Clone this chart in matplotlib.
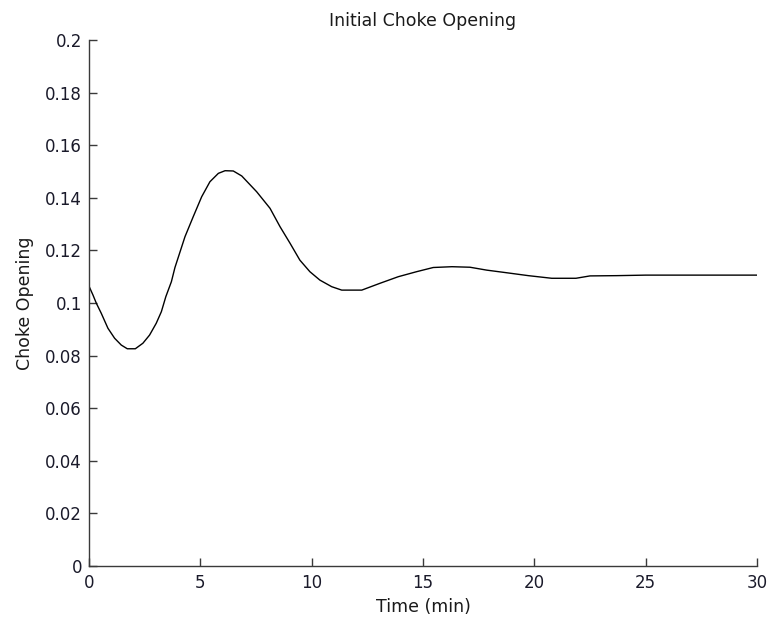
import matplotlib
matplotlib.use("Agg")
import matplotlib.pyplot as plt

# Data
time_min = [0.0, 0.18, 0.33, 0.55, 0.85, 1.15, 1.45, 1.72, 2.08, 2.42, 2.72,
            3.02, 3.25, 3.45, 3.70, 3.86, 4.31, 4.68, 5.06, 5.43, 5.81, 6.11,
            6.48, 6.86, 7.53, 8.13, 8.58, 9.03, 9.47, 9.92, 10.37, 10.9, 11.35,
            12.25, 13.07, 13.89, 14.71, 15.46, 16.3, 17.11, 17.86, 18.76, 19.73,
            20.78, 21.87, 22.5, 23.7, 25.0, 30.0]
choke = [0.1064, 0.1030, 0.0999, 0.0961, 0.0904, 0.0866, 0.0840, 0.0826, 0.0826,
         0.0847, 0.0878, 0.0923, 0.0967, 0.1024, 0.1081, 0.1135, 0.1252, 0.1328,
         0.1404, 0.1461, 0.1493, 0.1503, 0.1502, 0.1483, 0.1423, 0.1360, 0.1290,
         0.1227, 0.1163, 0.1119, 0.1087, 0.1062, 0.1049, 0.1049, 0.1075, 0.1100,
         0.1119, 0.1135, 0.1138, 0.1136, 0.1125, 0.1115, 0.1104, 0.1094, 0.1094,
         0.1103, 0.1104, 0.1106, 0.1106]
x_ticks = [0, 5, 10, 15, 20, 25, 30]
y_ticks = [0, 0.02, 0.04, 0.06, 0.08, 0.1, 0.12, 0.14, 0.16, 0.18, 0.2]
y_tick_labels = ["0", "0.02", "0.04", "0.06", "0.08", "0.1", "0.12", "0.14",
                 "0.16", "0.18", "0.2"]

plt.rcParams['font.family'] = ['DejaVu Sans']
fig = plt.figure(figsize=(7.69, 6.23), dpi=100)
ax = fig.add_axes([89 / 769, 1 - 566 / 623, (757 - 89) / 769, (566 - 40) / 623])

ax.plot(time_min, choke, color='black', lw=1.0)

ax.set_xlim(0, 30)
ax.set_ylim(0, 0.2)
ax.set_xticks(x_ticks)
ax.set_xticklabels([str(v) for v in x_ticks])
ax.set_yticks(y_ticks)
ax.set_yticklabels(y_tick_labels)

for s in ['top', 'right']:
    ax.spines[s].set_visible(False)
for s in ['left', 'bottom']:
    ax.spines[s].set_color('#3a3a3a')
    ax.spines[s].set_linewidth(1.0)
    ax.spines[s].set_zorder(3)

ax.tick_params(direction='in', length=6, width=1.0, color='#3a3a3a',
               labelsize=12, labelcolor='#1a1a2a')
ax.tick_params(axis='y', pad=5)
ax.tick_params(axis='x', pad=6)

ax.set_title('Initial Choke Opening', fontsize=12.5, pad=10, color='#1a1a1a')
ax.set_xlabel('Time (min)', fontsize=12.5, labelpad=4, color='#1a1a1a')
ax.set_ylabel('Choke Opening', fontsize=12.5, labelpad=8, color='#1a1a1a')

fig.savefig('out.png', dpi=100)
